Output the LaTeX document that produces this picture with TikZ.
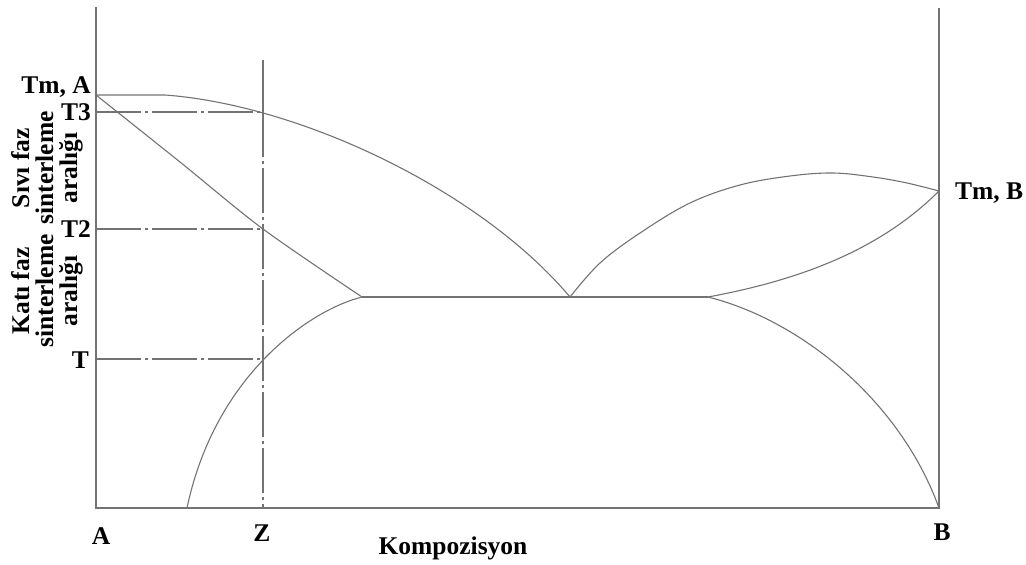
\documentclass[tikz,border=0pt]{standalone}
\usepackage{fontspec}
\setmainfont{Liberation Serif}
\begin{document}
\begin{tikzpicture}[x=1pt,y=-1pt,
  curve/.style={draw=black!55,line width=1.1pt},
  axisline/.style={draw=black!55,line width=1.3pt},
  dashdot/.style={draw=black!55,line width=1.1pt,dash pattern=on 45pt off 4pt on 3pt off 4pt},
  lbl/.style={font=\bfseries\fontsize{25.5}{24}\selectfont,inner sep=0pt},
  vlbl/.style={lbl,rotate=90,align=center}]
\useasboundingbox (0,0) rectangle (1026,565);
% axes
\coordinate (A0) at (96,508);
\coordinate (Atop) at (96,7);
\coordinate (B0) at (939,508);
\coordinate (Btop) at (939,8);
\coordinate (TmA) at (96,95);
\coordinate (TmB) at (939,191);
\coordinate (Ztop) at (263,60);
\coordinate (Z3) at (263,112);
\coordinate (Z0) at (263,508);
\coordinate (Z2) at (263,229);
\coordinate (Z1) at (263,359);
\coordinate (E) at (570,297);
\coordinate (L) at (362,297);
\coordinate (R) at (708,297);
\coordinate (K) at (165,95);
\draw[axisline] (Atop) -- (A0) -- (B0) -- (Btop);
% Z line
\draw[curve] (Ztop) -- (Z3);
\draw[dashdot] (Z3) -- (Z0);
% dash-dot temperature lines
\draw[dashdot] (96,112) -- (Z3);
\draw[dashdot] (96,229) -- (Z2);
\draw[dashdot] (96,359) -- (Z1);
% left liquidus
\draw[curve] (TmA) -- (K) .. controls (300,105) and (480,190) .. (E);
% left solidus
\draw[curve] plot[smooth,tension=0.5] coordinates {(TmA) (180,162) (Z2) (L)};
% left solvus
\draw[curve] (L) .. controls (310,310) and (215,375) .. (187,508);
% eutectic line
\draw[curve] (L) -- (R);
% right liquidus
\draw[curve] plot[smooth,tension=0.6] coordinates {(E) (600,263) (640,233) (690,203) (740,185) (790,176) (833,173) (873,177) (907,183) (TmB)};
% right solidus
\draw[curve] (R) .. controls (800,280) and (880,250) .. (TmB);
% right solvus
\draw[curve] (R) .. controls (800,320) and (900,400) .. (B0);
% labels
\node[lbl,anchor=east] (lTmA) at (91,87) {Tm, A};
\node[lbl,anchor=east] (lT3) at (91,112) {T3};
\node[lbl,anchor=east] (lT2) at (91,229) {T2};
\node[lbl,anchor=east] (lT) at (89,360) {T};
\node[vlbl] (liq) at (47,168) {Sıvı faz\\sinterleme\\aralığı};
\node[vlbl] (sol) at (47,291) {Katı faz\\sinterleme\\aralığı};
\node[lbl] (lA) at (101,536) {A};
\node[lbl] (lZ) at (262,533) {Z};
\node[lbl] (lB) at (942,532) {B};
\node[lbl] (lK) at (453,548) {Kompozisyon};
\node[lbl,anchor=west] (lTmB) at (955,193) {Tm, B};
\end{tikzpicture}
\end{document}
